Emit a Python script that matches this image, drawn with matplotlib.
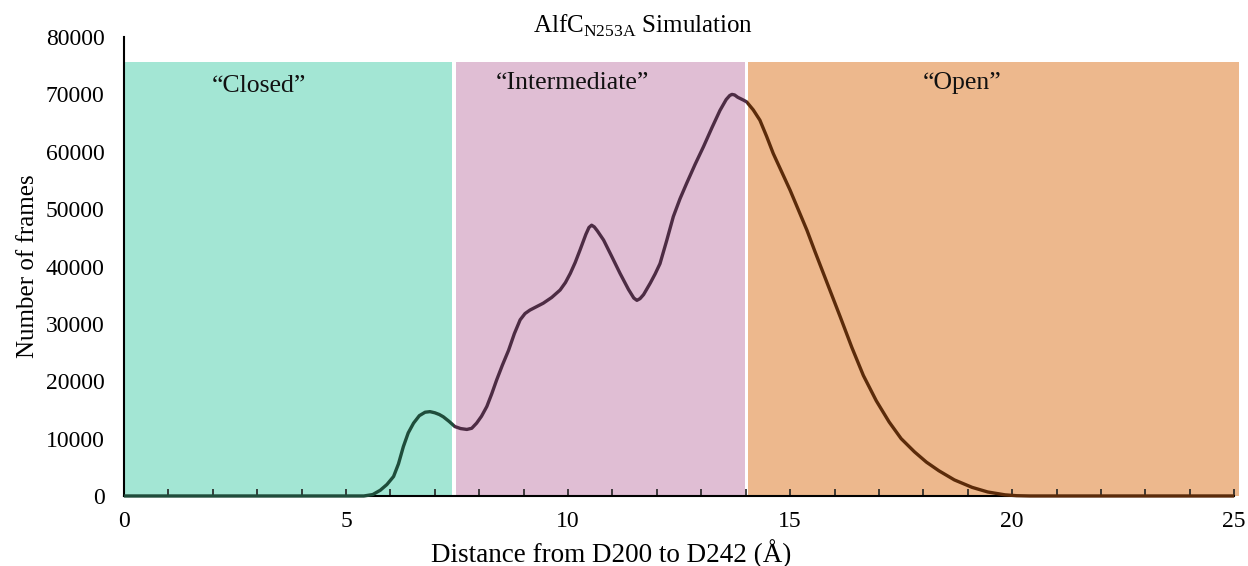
import matplotlib
matplotlib.use("Agg")
import matplotlib.pyplot as plt
from matplotlib.patches import Rectangle
from matplotlib.ticker import MultipleLocator

plt.rcParams["font.family"] = ["Liberation Serif", "DejaVu Serif"]
plt.rcParams["mathtext.fontset"] = "custom"
plt.rcParams["mathtext.rm"] = "Liberation Serif"

# Distance histogram (Å vs number of frames)
distance = [0.0, 1.0, 2.0, 3.0, 4.0, 5.0, 5.4, 5.6, 5.77, 5.92, 6.07, 6.18, 6.29,
            6.40, 6.52, 6.65, 6.78, 6.89, 7.0, 7.1, 7.19, 7.32, 7.45, 7.58, 7.72,
            7.83, 7.94, 8.05, 8.17, 8.28, 8.39, 8.52, 8.66, 8.79, 8.92, 9.03, 9.14,
            9.29, 9.44, 9.63, 9.82, 9.94, 10.05, 10.16, 10.27, 10.40, 10.47, 10.53,
            10.59, 10.66, 10.8, 10.98, 11.17, 11.36, 11.48, 11.55, 11.62, 11.70,
            11.85, 11.96, 12.07, 12.22, 12.37, 12.52, 12.67, 12.86, 13.05, 13.24,
            13.42, 13.56, 13.64, 13.69, 13.75, 13.82, 13.95, 14.02, 14.17, 14.32,
            14.47, 14.62, 14.81, 15.0, 15.19, 15.38, 15.56, 15.75, 15.94, 16.13,
            16.39, 16.65, 16.94, 17.23, 17.5, 17.8, 18.07, 18.35, 18.7, 19.1,
            19.45, 19.84, 20.1, 20.4, 21.0, 22.0, 23.0, 24.0, 25.0]
frames = [0, 0, 0, 0, 0, 0, 0, 250, 1000, 2000, 3400, 5600, 8600,
          11000, 12700, 14000, 14600, 14700, 14500, 14200, 13800, 13000, 12100,
          11750, 11600, 11800, 12700, 13900, 15600, 17800, 20200, 22800, 25400,
          28300, 30700, 31800, 32400, 33000, 33600, 34600, 35900, 37200, 38800,
          40700, 42900, 45600, 46800, 47200, 46900, 46200, 44600, 41800, 38800,
          36000, 34500, 34100, 34400, 35100, 37100, 38700, 40500, 44500, 48700,
          51800, 54500, 57800, 60900, 64200, 67200, 69100, 69800, 70000, 69900,
          69500, 69000, 68700, 67300, 65500, 62700, 59700, 56500, 53300, 49800,
          46300, 42600, 38800, 35000, 31200, 25900, 21000, 16600, 12900, 10000,
          7700, 5900, 4400, 2800, 1500, 700, 200, 50, 0, 0, 0, 0, 0, 0]

# Conformational regions: (start, end, label, fill colour, line colour)
region_start = [0.0, 7.48, 14.06]
region_end = [7.38, 13.98, 25.1]
region_label = ["\u201cClosed\u201d", "\u201cIntermediate\u201d", "\u201cOpen\u201d"]
region_label_x = [3.04, 10.1, 18.87]
region_label_y = [71400, 71900, 71900]
region_fill = ["#a3e6d4", "#e0bed4", "#edb88d"]
region_line = ["#1f4d3b", "#4d2c44", "#5b2b0a"]
region_top = 75600

fig = plt.figure(figsize=(12.48, 5.66), dpi=100)
ax = fig.add_axes([0.0994, 0.1237, 0.8895, 0.8109])

for x0, x1, lab, lx, ly, fc, lc in zip(region_start, region_end, region_label,
                                        region_label_x, region_label_y,
                                        region_fill, region_line):
    rect = Rectangle((x0, 0), x1 - x0, region_top, facecolor=fc,
                     edgecolor="none", zorder=1, clip_on=False)
    ax.add_patch(rect)
    ax.text(lx, ly, lab, ha="center", va="center", fontsize=18.5,
            color="#111111", zorder=3)
    # Curve section coloured by region
    clip = Rectangle((x0 - 0.04, -5000), (x1 - x0) + 0.08, 95000,
                     transform=ax.transData)
    ln, = ax.plot(distance, frames, color=lc, lw=2.4, zorder=4,
                  solid_capstyle="butt", solid_joinstyle="round")
    ln.set_clip_path(clip)

ax.set_xlim(0, 25)
ax.set_ylim(0, 80000)
ax.xaxis.set_major_locator(MultipleLocator(5))
ax.xaxis.set_minor_locator(MultipleLocator(1))
ax.yaxis.set_major_locator(MultipleLocator(10000))
ax.tick_params(axis="x", which="both", direction="in", length=5, width=1.2,
               color="#222222", labelsize=17, pad=11)
ax.tick_params(axis="y", which="both", length=0, labelsize=17, pad=14)

for s in ["top", "right"]:
    ax.spines[s].set_visible(False)
for s in ["left", "bottom"]:
    ax.spines[s].set_linewidth(1.5)
    ax.spines[s].set_color("black")
    ax.spines[s].set_zorder(2)

ax.set_xlabel("Distance from D200 to D242 (\u00c5)", fontsize=19.5, labelpad=3)
ax.xaxis.set_label_coords(0.439, -0.095)
fig.text(0.0225, 0.53, "Number of frames", rotation=90, ha="center",
         va="center", fontsize=18)
fig.text(0.515, 0.954, "AlfC$_{\\mathrm{N253A}}$ Simulation", ha="center",
         va="center", fontsize=18)

fig.savefig("out.png", dpi=100)
